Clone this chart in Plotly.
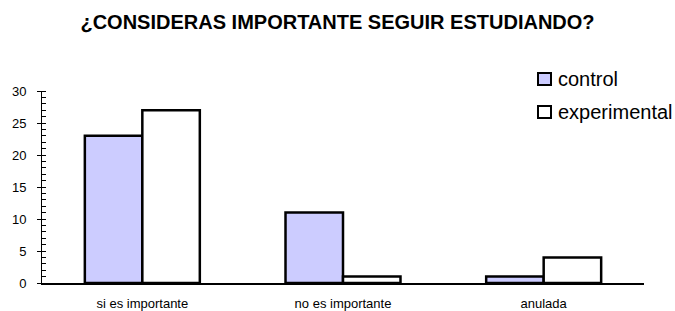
import plotly.graph_objects as go

categories = ["si es importante", "no es importante", "anulada"]
control = [23, 11, 1]
experimental = [27, 1, 4]
y_ticks = [0, 5, 10, 15, 20, 25, 30]
series_names = ["control", "experimental"]
series_colors = ["#CCCCFF", "white"]

L, R, T, B = 42, 31, 91, 28
W, H = 675, 311
pw, ph = W - L - R, H - T - B

def px_x(p):
    return (p - L) / pw

def px_y(p):
    return (H - B - p) / ph

fig = go.Figure()
for name, vals, col in zip(series_names, [control, experimental], series_colors):
    fig.add_trace(go.Bar(x=categories, y=vals, name=name, showlegend=False,
                         marker=dict(color=col, line=dict(color="black", width=2.5))))

# manual legend
legend_rows = [79, 112]
for name, col, cy in zip(series_names, series_colors, legend_rows):
    fig.add_shape(type="rect", xref="paper", yref="paper",
                  x0=px_x(538), x1=px_x(551), y0=px_y(cy + 6), y1=px_y(cy - 6),
                  fillcolor=col, line=dict(color="black", width=2))
    fig.add_annotation(text=name, xref="paper", yref="paper", x=px_x(556), y=px_y(cy),
                       xanchor="left", yanchor="middle", showarrow=False,
                       font=dict(size=20, color="black"))

fig.update_layout(
    width=W, height=H,
    margin=dict(l=L, r=R, t=T, b=B),
    paper_bgcolor="white", plot_bgcolor="white",
    barmode="group", bargap=0.427, bargroupgap=0,
    font=dict(family="Arial, Liberation Sans, sans-serif", color="black"),
    title=dict(text="<b>¿CONSIDERAS IMPORTANTE SEGUIR ESTUDIANDO?</b>",
               x=0.5, xanchor="center", xref="container",
               y=1 - 22 / H, yanchor="middle", yref="container",
               font=dict(size=20, color="black")),
    showlegend=False,
)
fig.update_xaxes(showline=True, linecolor="black", linewidth=1.5, ticks="",
                 tickfont=dict(size=13), showgrid=False, automargin=False,
                 ticklabelstandoff=8)
fig.update_yaxes(range=[0, 30], tickvals=y_ticks, showline=True, linecolor="black",
                 linewidth=1, ticks="outside", ticklen=4, tickcolor="black",
                 tickfont=dict(size=13), showgrid=False, zeroline=False,
                 automargin=False, ticklabelstandoff=8,
                 minor=dict(dtick=1, ticks="inside", ticklen=4, tickcolor="black",
                            showgrid=False))

fig.write_html("out.html", config={"displayModeBar": False},
               post_script="document.body.style.margin='0';document.body.style.overflow='hidden';")
